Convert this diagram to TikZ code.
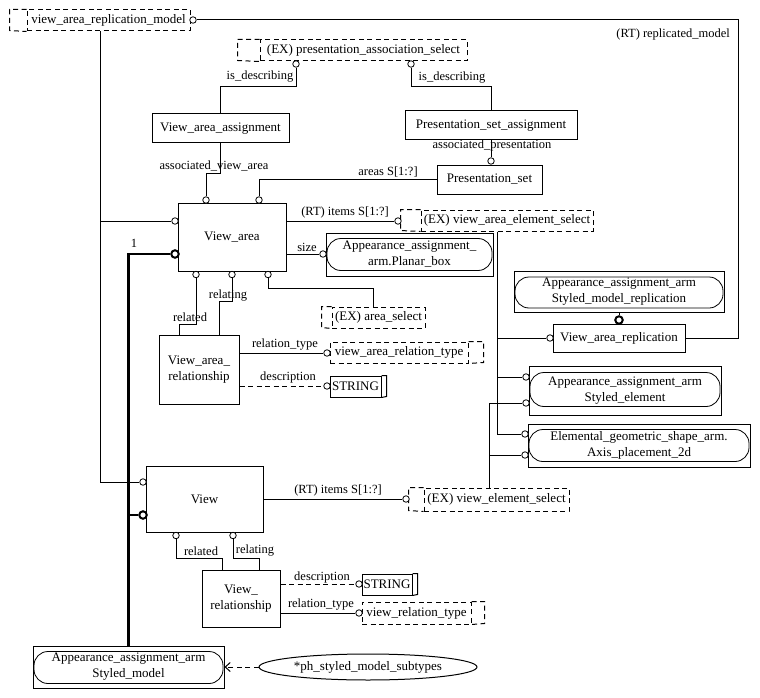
\documentclass[tikz,border=0pt]{standalone}
\usepackage{fontspec}
\setmainfont{Liberation Serif}
\usetikzlibrary{arrows.meta,calc,shapes.geometric}
\begin{document}
\begin{tikzpicture}[x=1pt,y=-1pt,
  every node/.style={font=\fontsize{13}{16}\selectfont},
  ent/.style={draw, line width=1pt, align=center, inner sep=0pt},
  sel/.style={draw, line width=1pt, inner sep=0pt, dash pattern=on 5pt off 3.5pt},
  dsh/.style={line width=1pt, dash pattern=on 5pt off 3.5pt},
  lbl/.style={font=\fontsize{12.5}{14}\selectfont, inner sep=0pt},
  oc/.style={circle, draw, fill=white, inner sep=0pt, minimum size=6.5pt, line width=0.8pt},
  tc/.style={circle, draw, fill=white, inner sep=0pt, minimum size=7.5pt, line width=2pt},
  con/.style={line width=1pt},
  thk/.style={line width=2.6pt},
  rnd/.style={line width=0.8pt, rounded corners=14pt}
]
\useasboundingbox (0,0) rectangle (760,698);
\fill[white] (0,0) rectangle (760,698);

% ---------- boxes ----------
\node[sel, minimum width=163pt, minimum height=21pt] (varm) at (108.5,20.5) {view\_area\_replication\_model};
\draw[dsh] (varm.north west) -- ++(-17,0) -- ++(0,21) -- (varm.south west);

\node[sel, minimum width=207pt, minimum height=21pt] (pas) at (363.5,50.5) {(EX) presentation\_association\_select};
\draw[dsh] (pas.north west) -- ++(-22,0) -- ++(0,21) -- (pas.south west);

\node[ent, minimum width=137pt, minimum height=29pt] (vaa) at (220.5,128.5) {View\_area\_assignment};
\node[ent, minimum width=172pt, minimum height=29pt] (psa) at (491,125.5) {Presentation\_set\_assignment};
\node[ent, minimum width=105pt, minimum height=29pt] (ps) at (489.5,179.5) {Presentation\_set};

\node[ent, minimum width=108pt, minimum height=68pt] (va) at (232,237) {View\_area};

\node[sel, minimum width=172pt, minimum height=21pt] (vaes) at (507,220.5) {(EX) view\_area\_element\_select};
\draw[dsh] (vaes.north west) -- ++(-20,0) -- ++(0,21) -- (vaes.south west);

\node[ent, minimum width=167pt, minimum height=43pt] (pb) at (409.5,254.5) {Appearance\_assignment\_\\arm.Planar\_box};
\draw[rnd] ([shift={(1.5,6)}]pb.north west) rectangle ([shift={(-1.5,-6)}]pb.south east);

\node[sel, minimum width=93pt, minimum height=21pt] (asel) at (378.5,317.5) {(EX) area\_select};
\draw[dsh] (asel.north west) -- ++(-10,0) -- ++(0,21) -- (asel.south west);

\node[ent, minimum width=80pt, minimum height=69pt] (var) at (199,369.5) {View\_area\_\\relationship};

\node[sel, minimum width=138pt, minimum height=21pt] (vart) at (399,352.5) {view\_area\_relation\_type};
\draw[dsh] (vart.north east) -- ++(15,0) -- ++(0,21) -- (vart.south east);

\node[ent, minimum width=51pt, minimum height=21pt] (str1) at (355.5,386.5) {STRING};
\draw[con] (str1.north east) -- ++(5,0) -- ++(0,21) -- (str1.south east);

\node[ent, minimum width=210pt, minimum height=41pt] (smr) at (619,291.5) {Appearance\_assignment\_arm\\Styled\_model\_replication};
\draw[rnd] ([shift={(1.5,6.5)}]smr.north west) rectangle ([shift={(-1.5,-4.5)}]smr.south east);

\node[ent, minimum width=132pt, minimum height=28pt] (var2) at (619,338) {View\_area\_replication};

\node[ent, minimum width=192pt, minimum height=49pt] (se) at (625,390.5) {Appearance\_assignment\_arm\\Styled\_element};
\draw[rnd] ([shift={(1.5,7)}]se.north west) rectangle ([shift={(-1.5,-9)}]se.south east);

\node[ent, minimum width=222pt, minimum height=43pt] (ap) at (639,445.5) {Elemental\_geometric\_shape\_arm.\\Axis\_placement\_2d};
\draw[rnd] ([shift={(1.5,6)}]ap.north west) rectangle ([shift={(-1.5,-6)}]ap.south east);

\node[sel, minimum width=145pt, minimum height=23pt] (ves) at (496.5,499.5) {(EX) view\_element\_select};
\draw[dsh] (ves.north west) -- ++(-15,0) -- ++(0,23) -- (ves.south west);

\node[ent, minimum width=117pt, minimum height=66pt] (v) at (204.5,499) {View};
\node[ent, minimum width=78pt, minimum height=57pt] (vr) at (241,598.5) {View\_\\relationship};

\node[ent, minimum width=50pt, minimum height=21pt] (str2) at (387,584.5) {STRING};
\draw[con] (str2.north east) -- ++(5,0) -- ++(0,21) -- (str2.south east);

\node[sel, minimum width=109pt, minimum height=22pt] (vrt) at (416.5,613) {view\_relation\_type};
\draw[dsh] (vrt.north east) -- ++(13,0) -- ++(0,22) -- (vrt.south east);

\node[ent, minimum width=191pt, minimum height=42pt] (sm) at (128.5,667) {Appearance\_assignment\_arm\\Styled\_model};
\draw[rnd] ([shift={(1.5,6)}]sm.north west) rectangle ([shift={(-1.5,-5)}]sm.south east);

\node[ellipse, draw, line width=1pt, minimum width=218pt, minimum height=26pt, inner sep=0pt] (ell) at (368,667) {*ph\_styled\_model\_subtypes};

% ---------- circle ends ----------
\node[oc] (cvarm) at (193,20) {};
\node[oc] (cps1) at (296,64) {};
\node[oc] (cps2) at (411,64) {};
\node[oc] (cvat1) at (206,200) {};
\node[oc] (cvat2) at (259,200) {};
\node[oc] (cval) at (175,221) {};
\node[tc] (cvath) at (175,254) {};
\node[oc] (cvab1) at (196,274.5) {};
\node[oc] (cvab2) at (232,274.5) {};
\node[oc] (cvab3) at (268,274.5) {};
\node[oc] (cps) at (491,161) {};
\node[oc] (cves) at (398,221) {};
\node[oc] (cpb) at (323,254) {};
\node[oc] (cvart) at (327,353) {};
\node[oc] (cstr1) at (327,386) {};
\node[tc] (cvar2t) at (619,320) {};
\node[oc] (cvar2l) at (550,338) {};
\node[oc] (cse1) at (526,377) {};
\node[oc] (cse2) at (526,403) {};
\node[oc] (cap1) at (525,434) {};
\node[oc] (cap2) at (525,455) {};
\node[oc] (cves2) at (406,499) {};
\node[oc] (cvl) at (143,482) {};
\node[tc] (cvth) at (143,515) {};
\node[oc] (cvb1) at (176,535.5) {};
\node[oc] (cvb2) at (233,535.5) {};
\node[oc] (cstr2) at (359,584) {};
\node[oc] (cvrt) at (359,613) {};

% ---------- connectors ----------
\draw[con] (cvarm.east) -- (738,20) -- (738,338) -- (var2.east);
\draw[con] ([xshift=-8.5pt]varm.south) -- ([xshift=-8.5pt]varm.south |- cvl) -- (cvl.west);
\draw[con] ([xshift=-8.5pt]varm.south |- cval) -- (cval.west);
\draw[thk] (sm.north) -- (sm.north |- cvath) -- (cvath.west);
\draw[thk] (sm.north |- cvth) -- (cvth.west);

\draw[con] (cps1.south) |- ($(vaa.north)+(0,-27)$) -- (vaa.north);
\draw[con] (cps2.south) |- ($(psa.north)+(0,-24)$) -- (psa.north);
\draw[con] (vaa.south) -- ++(0,30) -| (cvat1.north);
\draw[con] (cvat2.north) |- (ps.west);
\draw[con] (psa.south) -- (cps.north);
\draw[con] (va.east |- cves) -- (cves.west);
\draw[con] (va.east |- cpb) -- (cpb.west);
\draw[con] (cvab3.south) |- ($(asel.north)+(-5.5,-18)$) -- ([xshift=-5.5pt]asel.north);
\draw[con] (cvab2.south) |- ($(var.north)+(20,-33)$) -- ([xshift=20pt]var.north);
\draw[con] (cvab1.south) |- ($(var.north)+(-20,-10)$) -- ([xshift=-20pt]var.north);
\draw[con] (var.east |- cvart) -- (cvart.west);
\draw[dsh] (var.east |- cstr1) -- (cstr1.west);

\draw[con] ([xshift=-10pt]vaes.south) |- (cap1.west);
\draw[con] ([xshift=-10pt]vaes.south |- cvar2l) -- (cvar2l.west);
\draw[con] ([xshift=-10pt]vaes.south |- cse1) -- (cse1.west);
\draw[con] ([xshift=-7.5pt]ves.north) |- (cse2.west);
\draw[con] ([xshift=-7.5pt]ves.north |- cap2) -- (cap2.west);
\draw[con] (smr.south) -- (cvar2t.north);

\draw[con] (v.east |- cves2) -- (cves2.west);
\draw[con] (cvb1.south) |- ($(vr.north)+(-19,-11)$) -- ([xshift=-19pt]vr.north);
\draw[con] (cvb2.south) |- ($(vr.north)+(18,-11)$) -- ([xshift=18pt]vr.north);
\draw[dsh] (vr.east |- cstr2) -- (cstr2.west);
\draw[con] (vr.east |- cvrt) -- (cvrt.west);
\draw[dsh, -{Straight Barb[length=5pt,width=9pt]}] (ell.west) -- (sm.east);

% ---------- labels ----------
\node[lbl, anchor=east] at (730,34) {(RT) replicated\_model};
\node[lbl] at (260,77) {is\_describing};
\node[lbl] at (452,78) {is\_describing};
\node[lbl] at (214,166) {associated\_view\_area};
\node[lbl] at (388,172) {areas S[1:?]};
\node[lbl] at (492,145) {associated\_presentation};
\node[lbl] at (345,212) {(RT) items S[1:?]};
\node[lbl] at (307,247) {size};
\node[lbl] at (134,243) {1};
\node[lbl] at (228,296) {relating};
\node[lbl] at (190,317) {related};
\node[lbl] at (285,345) {relation\_type};
\node[lbl] at (288,377) {description};
\node[lbl] at (338,490) {(RT) items S[1:?]};
\node[lbl] at (201,551) {related};
\node[lbl] at (255,551) {relating};
\node[lbl] at (322,577) {description};
\node[lbl] at (321,605) {relation\_type};
\end{tikzpicture}
\end{document}
